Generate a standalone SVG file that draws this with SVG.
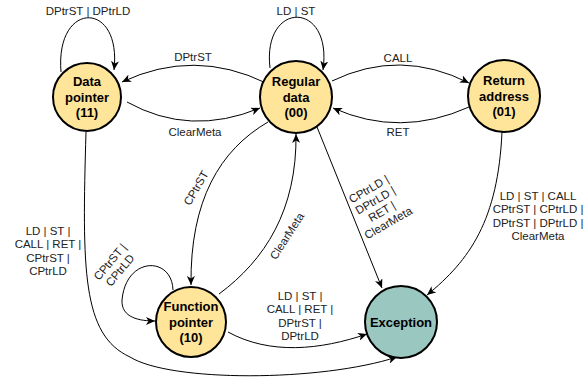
<svg xmlns="http://www.w3.org/2000/svg" width="587" height="378" viewBox="0 0 587 378">
<style>
.node{fill:#FFE599;stroke:#000;stroke-width:2}
.exc{fill:#9AC7BF;stroke:#000;stroke-width:2}
.title{font-family:"Liberation Sans",Arial,sans-serif;font-size:13px;font-weight:bold;fill:#000;text-anchor:middle}
.lbl{font-family:"Liberation Sans",Arial,sans-serif;font-size:11.5px;fill:#222;text-anchor:middle}
.edge{fill:none;stroke:#000;stroke-width:1;marker-end:url(#arr)}
</style>
<defs>
<marker id="arr" markerUnits="userSpaceOnUse" markerWidth="10" markerHeight="8" refX="9" refY="4" orient="auto">
<path d="M0,0 L9,4 L0,8 L2.5,4 Z" fill="#000"/>
</marker>
</defs>
<g id="connectors">
<path class="edge" d="M 61 72 C 55 0, 122 0, 114 70"/>
<path class="edge" d="M 270 68 C 262 0, 333 0, 323 70"/>
<path class="edge" d="M 266 83 Q 194 48, 122 82"/>
<path class="edge" d="M 127 102 Q 190 137, 260 108"/>
<path class="edge" d="M 332 81 Q 400 48, 469 83"/>
<path class="edge" d="M 469 107 Q 400 138, 333 108"/>
<path class="edge" d="M 268 122 C 220 150, 190 200, 191 285"/>
<path class="edge" d="M 219 294 C 265 260, 297 210, 296 134"/>
<path class="edge" d="M 173 290 C 172 256, 126 256, 122 300 C 121 318, 140 321, 155 321"/>
<path class="edge" d="M 317 127 L 382 288"/>
<path class="edge" d="M 502 132 C 498 220, 470 260, 427 295"/>
<path class="edge" d="M 228 332 C 270 355, 320 350, 367 334"/>
<path class="edge" d="M 86 132 C 82 270, 82 335, 130 357 C 170 382, 320 382, 397 357"/>
<text class="lbl" x="88" y="15">DPtrST | DPtrLD</text>
<text class="lbl" x="296" y="15">LD | ST</text>
<text class="lbl" x="193" y="61">DPtrST</text>
<text class="lbl" x="195" y="136">ClearMeta</text>
<text class="lbl" x="398" y="62">CALL</text>
<text class="lbl" x="398" y="136">RET</text>
<text class="lbl" transform="translate(196,188) rotate(-60)" x="0" y="4">CPtrST</text>
<text class="lbl" transform="translate(287,236) rotate(-57)" x="0" y="4">ClearMeta</text>
<g transform="translate(115,266) rotate(-50)">
<text class="lbl" x="0" y="-2.5">CPtrST |</text>
<text class="lbl" x="0" y="10.5">CPtrLD</text>
</g>
<g transform="translate(378.5,206) rotate(-30)">
<text class="lbl" x="0" y="-15.5">CPtrLD |</text>
<text class="lbl" x="0" y="-2.5">DPtrLD |</text>
<text class="lbl" x="0" y="10.5">RET |</text>
<text class="lbl" x="0" y="23.5">ClearMeta</text>
</g>
<text class="lbl" x="538" y="199.5">LD | ST | CALL</text>
<text class="lbl" x="538" y="213">CPtrST | CPtrLD |</text>
<text class="lbl" x="538" y="226.5">DPtrST | DPtrLD |</text>
<text class="lbl" x="538" y="240">ClearMeta</text>
<text class="lbl" x="300" y="300">LD | ST |</text>
<text class="lbl" x="300" y="313.3">CALL | RET |</text>
<text class="lbl" x="300" y="326.6">DPtrST |</text>
<text class="lbl" x="300" y="340">DPtrLD</text>
<text class="lbl" x="48" y="235">LD | ST |</text>
<text class="lbl" x="48" y="248.3">CALL | RET |</text>
<text class="lbl" x="48" y="261.6">CPtrST |</text>
<text class="lbl" x="48" y="275">CPtrLD</text>
</g>
<g id="data-pointer">
<circle class="node" cx="87" cy="97" r="34"/>
<text class="title" x="87" y="86">Data</text>
<text class="title" x="87" y="101.5">pointer</text>
<text class="title" x="87" y="117">(11)</text>
</g>
<g id="regular-data">
<circle class="node" cx="296" cy="97" r="36"/>
<text class="title" x="296" y="86">Regular</text>
<text class="title" x="296" y="101.5">data</text>
<text class="title" x="296" y="117">(00)</text>
</g>
<g id="return-address">
<circle class="node" cx="504" cy="96" r="36"/>
<text class="title" x="504" y="85">Return</text>
<text class="title" x="504" y="100.5">address</text>
<text class="title" x="504" y="116">(01)</text>
</g>
<g id="function-pointer">
<circle class="node" cx="191" cy="322" r="35"/>
<text class="title" x="191" y="311">Function</text>
<text class="title" x="191" y="326.5">pointer</text>
<text class="title" x="191" y="342">(10)</text>
</g>
<g id="exception">
<circle class="exc" cx="401" cy="322" r="36"/>
<text class="title" x="401" y="326.5">Exception</text>
</g>
</svg>
